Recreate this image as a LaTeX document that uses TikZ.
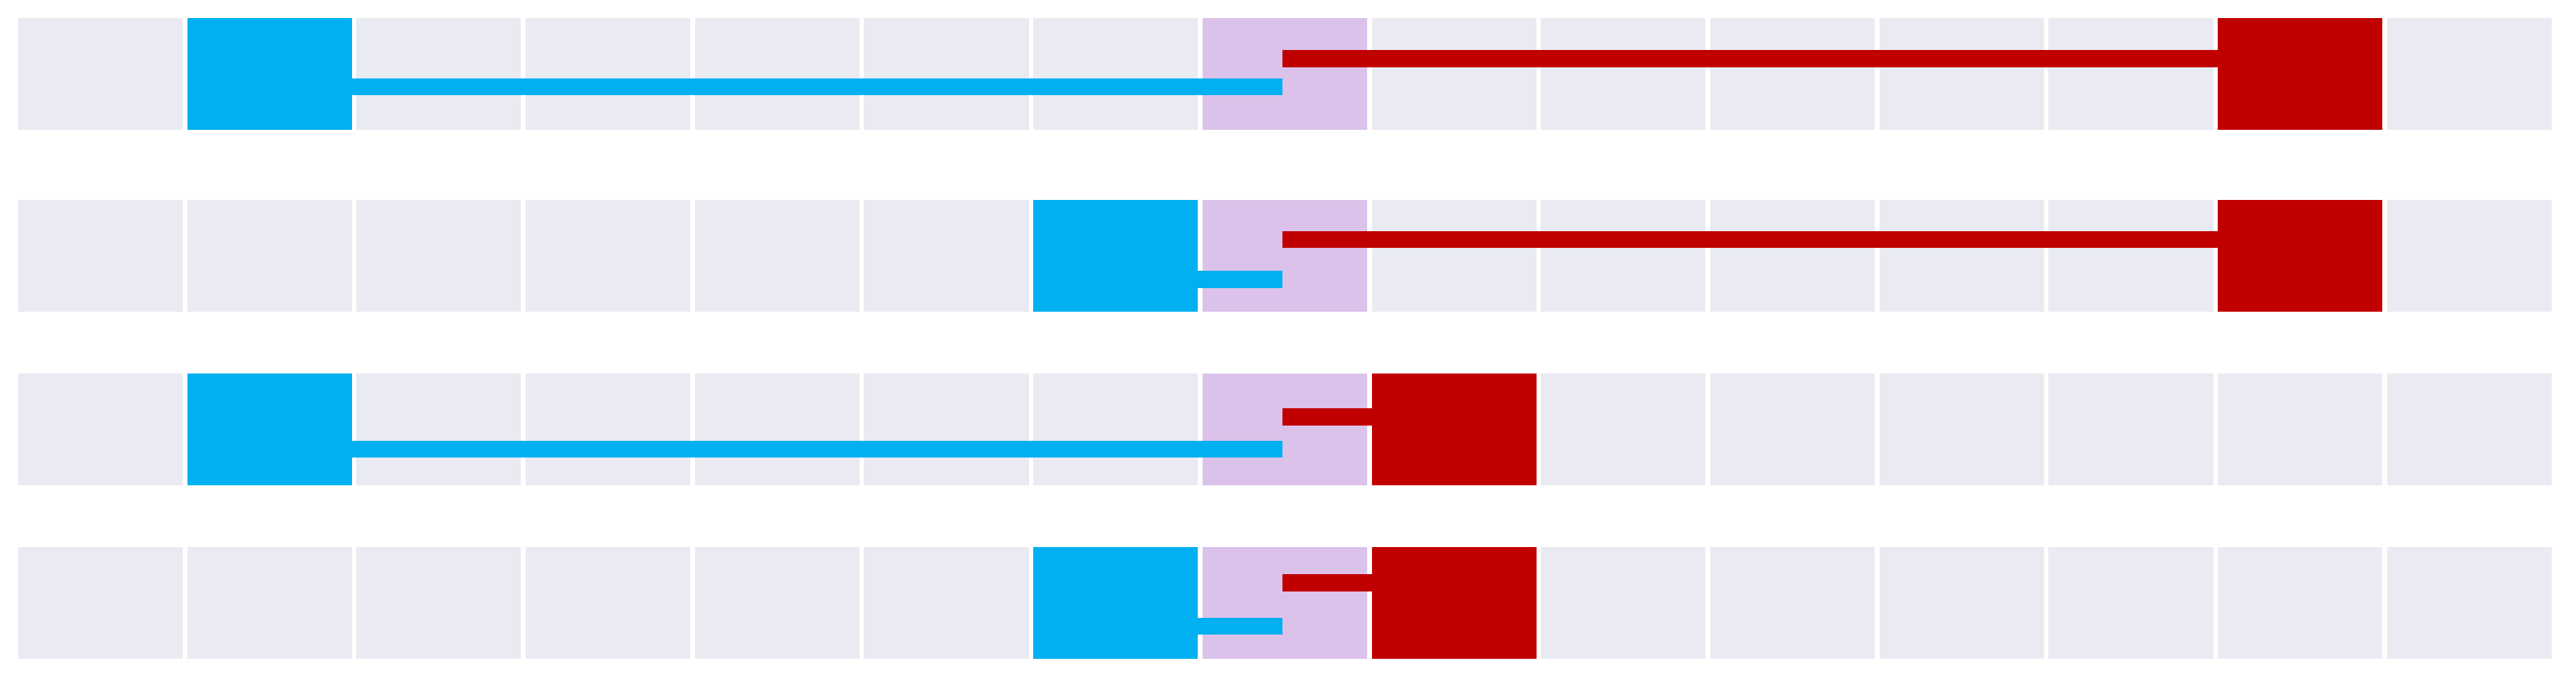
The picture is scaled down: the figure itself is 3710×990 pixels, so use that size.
\documentclass[tikz,border=0pt]{standalone}
\definecolor{cellbg}{HTML}{EAEAF2}
\definecolor{purp}{HTML}{DBC2EA}
\definecolor{cblue}{HTML}{00B0F0}
\definecolor{cred}{HTML}{C00000}
\begin{document}
\begin{tikzpicture}[x=0.01cm,y=-0.01cm,
  cell/.style={draw=none,inner sep=0pt,outer sep=0pt,minimum width=2.37cm,minimum height=1.61cm},
  bline/.style={draw=cblue,line width=0.245cm,line cap=butt},
  rline/.style={draw=cred,line width=0.245cm,line cap=butt}]
\useasboundingbox[fill=white] (0,0) rectangle (3710,990);
\foreach \r/\top/\bc/\rc/\ry/\by in {1/26/1/13/84.5/125, 2/288/6/13/345/402.5, 3/538/1/8/600.5/647, 4/788/6/8/839.5/902}{
  \foreach \c in {0,...,14}{
    \def\fc{cellbg}
    \ifnum\c=7 \def\fc{purp}\fi
    \ifnum\c=\bc \def\fc{cblue}\fi
    \ifnum\c=\rc \def\fc{cred}\fi
    \pgfmathsetmacro\xc{26+243.7*\c+118.5}
    \pgfmathsetmacro\yc{\top+80.5}
    \node[cell,fill=\fc] (c\r-\c) at (\xc,\yc) {};
  }
  \coordinate (bend\r) at (1847,\by);
  \coordinate (rstart\r) at (1847,\ry);
  \draw[bline] (c\r-\bc.east |- bend\r) -- (bend\r);
  \draw[rline] (rstart\r) -- (rstart\r -| c\r-\rc.west);
}
\end{tikzpicture}
\end{document}
